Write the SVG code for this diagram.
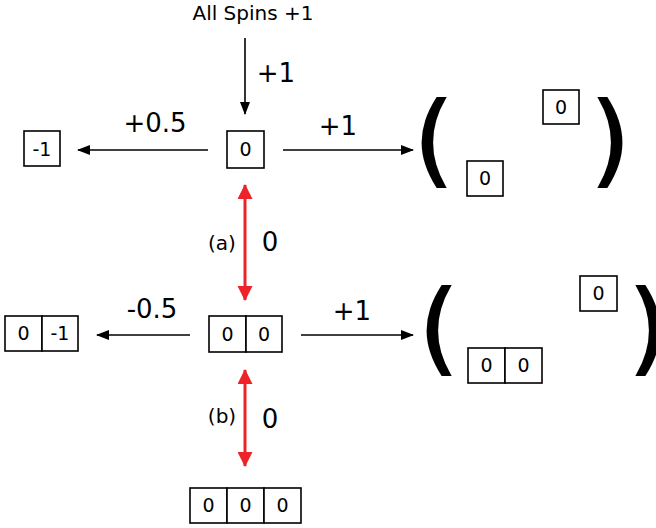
<svg xmlns="http://www.w3.org/2000/svg" width="656" height="528" viewBox="0 0 656 528">
<style>
text{font-family:"DejaVu Sans",sans-serif;fill:#000}
.b{fill:#fff;stroke:#000;stroke-width:1.6}
.bt{font-size:19px;text-anchor:middle}
.lb{font-size:26px;text-anchor:middle}
.sm{font-size:20px;text-anchor:middle}
.p{font-size:100px;stroke:#000;stroke-width:2}
.k{stroke:#000;stroke-width:1.6;fill:none}
.r{stroke:#ee2229;stroke-width:3;fill:none}
</style>
<defs>
<marker id="ak" markerWidth="13" markerHeight="10" refX="12" refY="5" orient="auto" markerUnits="userSpaceOnUse"><path d="M0,0L13,5L0,10z" fill="#000"/></marker>
<marker id="ar" markerWidth="15" markerHeight="15" refX="14" refY="7.5" orient="auto-start-reverse" markerUnits="userSpaceOnUse"><path d="M0,0L15,7.5L0,15z" fill="#ee2229"/></marker>
</defs>
<text x="253" y="20" class="sm">All Spins +1</text>
<g id="connectors">
<line x1="245" y1="38" x2="245" y2="114" class="k" marker-end="url(#ak)"/>
<line x1="208" y1="150" x2="78" y2="150" class="k" marker-end="url(#ak)"/>
<line x1="283" y1="150" x2="413" y2="150" class="k" marker-end="url(#ak)"/>
<line x1="245" y1="185" x2="245" y2="300" class="r" marker-start="url(#ar)" marker-end="url(#ar)"/>
<line x1="190" y1="335" x2="97" y2="335" class="k" marker-end="url(#ak)"/>
<line x1="301" y1="335" x2="413" y2="335" class="k" marker-end="url(#ak)"/>
<line x1="245" y1="370" x2="245" y2="466" class="r" marker-start="url(#ar)" marker-end="url(#ar)"/>
</g>
<text x="276" y="82" class="lb">+1</text>
<text x="155" y="132" class="lb">+0.5</text>
<text x="338" y="135" class="lb">+1</text>
<text x="222" y="250" class="sm">(a)</text>
<text x="270" y="251" class="lb">0</text>
<text x="152" y="318" class="lb">-0.5</text>
<text x="352" y="320" class="lb">+1</text>
<text x="222" y="423" class="sm">(b)</text>
<text x="270" y="428" class="lb">0</text>
<g id="n1"><rect x="24" y="131" width="36" height="35" class="b"/><text x="42" y="156" class="bt">-1</text></g>
<g id="n2"><rect x="227" y="131" width="37" height="37" class="b"/><text x="245.5" y="156" class="bt">0</text></g>
<g id="n3">
<text x="414" y="174" class="p">(</text>
<rect x="543" y="90" width="36" height="34" class="b"/><text x="561" y="114" class="bt">0</text>
<rect x="467" y="161" width="36" height="35" class="b"/><text x="485" y="185" class="bt">0</text>
<text x="591" y="174" class="p">)</text>
</g>
<g id="n4"><rect x="5" y="316" width="37" height="35" class="b"/><rect x="42" y="316" width="36" height="35" class="b"/><text x="23.5" y="340" class="bt">0</text><text x="60" y="340" class="bt">-1</text></g>
<g id="n5"><rect x="209" y="316" width="37" height="36" class="b"/><rect x="246" y="316" width="36" height="36" class="b"/><text x="227.5" y="341" class="bt">0</text><text x="264" y="341" class="bt">0</text></g>
<g id="n6">
<text x="419" y="362" class="p">(</text>
<rect x="580" y="276" width="37" height="35" class="b"/><text x="598.5" y="300" class="bt">0</text>
<rect x="468" y="348" width="37" height="35" class="b"/><rect x="505" y="348" width="37" height="35" class="b"/><text x="486.5" y="372" class="bt">0</text><text x="523.5" y="372" class="bt">0</text>
<text x="629" y="362" class="p">)</text>
</g>
<g id="n7"><rect x="190" y="488" width="37" height="35" class="b"/><rect x="227" y="488" width="37" height="35" class="b"/><rect x="264" y="488" width="37" height="35" class="b"/><text x="208.5" y="512" class="bt">0</text><text x="245.5" y="512" class="bt">0</text><text x="282.5" y="512" class="bt">0</text></g>
</svg>
